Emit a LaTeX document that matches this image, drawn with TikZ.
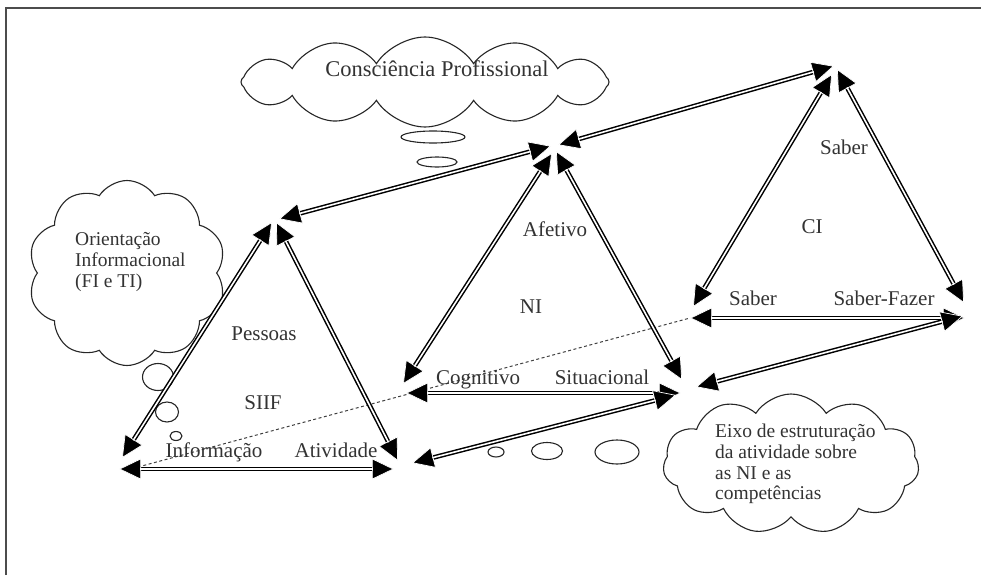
\documentclass[tikz,border=0pt]{standalone}
\usepackage{fontspec}
\setmainfont{Liberation Serif}
\usetikzlibrary{arrows.meta,shapes.symbols,shapes.geometric}
\begin{document}
\begin{tikzpicture}[x=1pt,y=-1pt,
  >={Triangle[length=22pt,width=21pt,line width=0.7pt,color=white,fill=black]},
  link/.style={<->, draw=black, line width=4.6pt,
    postaction={draw=white, line width=1.6pt, -, shorten <=21pt, shorten >=21pt}},
  guide/.style={draw=black!75, line width=1pt, dash pattern=on 3pt off 2.5pt},
  lbl/.style={text=black!80, font=\fontsize{21}{25}\selectfont, inner sep=0pt, anchor=base},
  cloudtxt/.style={text=black!80, font=\fontsize{19.5}{20.8}\selectfont, align=left, inner sep=0pt, anchor=west},
  bubble/.style={cloud, cloud ignores aspect, draw=black!85, line width=1.1pt, fill=white},
  puff/.style={ellipse, draw=black!85, line width=1.1pt, inner sep=0pt, fill=white},
]
\useasboundingbox (0,0) rectangle (981,575);

% frame
\draw[black!70, line width=1.6pt] (6,575) -- (6,8) -- (981,8);

% clouds and thought bubbles
\node[bubble, cloud puffs=12, cloud puff arc=115, minimum width=368pt, minimum height=90pt] (cons) at (425,82) {};
\node[puff, minimum width=64pt, minimum height=12pt] (cp1) at (433,137) {};
\node[puff, minimum width=40pt, minimum height=10pt] (cp2) at (437,162) {};

\node[bubble, cloud puffs=10, cloud puff arc=115, minimum width=198pt, minimum height=185pt] (orient) at (127,273) {};
\node[puff, minimum width=31pt, minimum height=27pt] (op1) at (158,377) {};
\node[puff, minimum width=23pt, minimum height=20pt] (op2) at (167,412) {};
\node[puff, minimum width=12pt, minimum height=9pt] (op3) at (176,436) {};

\node[bubble, cloud puffs=11, cloud puff arc=115, minimum width=256pt, minimum height=140pt] (eixo) at (791,464) {};
\node[puff, minimum width=16pt, minimum height=10pt] (ep1) at (496,452) {};
\node[puff, minimum width=31pt, minimum height=17pt] (ep2) at (547,451) {};
\node[puff, minimum width=44pt, minimum height=24pt] (ep3) at (617,452) {};

% cloud texts
\node[lbl, font=\fontsize{22.5}{26}\selectfont] (constxt) at (437,77) {Consciência Profissional};
\node[cloudtxt] (orienttxt) at (75,262) {Orientação\\Informacional\\(FI e TI)};
\node[cloudtxt] (eixotxt) at (715,464) {Eixo de estruturação\\da atividade sobre\\as NI e as\\competências};

% SIIF triangle
\coordinate (s-lb) at (122,458);
\coordinate (s-lt) at (272,222);
\coordinate (s-rt) at (276,222);
\coordinate (s-rb) at (398,461);
\coordinate (s-bl) at (119,469);
\coordinate (s-br) at (394,469);
\coordinate (s-up) at (279,219);
\coordinate (s-low) at (412,463);
\coordinate (g-start) at (138,467);

% NI triangle
\coordinate (n-lb) at (403,384);
\coordinate (n-lt) at (552,153);
\coordinate (n-rt) at (556,151);
\coordinate (n-rb) at (682,380);
\coordinate (n-bl) at (406,393);
\coordinate (n-br) at (681,393);
\coordinate (n-in) at (551,146);
\coordinate (n-out) at (558,145);
\coordinate (n-lowin) at (676,395);
\coordinate (n-lowout) at (696,387);

% CI triangle
\coordinate (c-lb) at (693,307);
\coordinate (c-lt) at (832,74);
\coordinate (c-rt) at (837,69);
\coordinate (c-rb) at (964,303);
\coordinate (c-bl) at (690,318);
\coordinate (c-br) at (965,318);
\coordinate (c-in) at (834,66);
\coordinate (c-lowin) at (963,316);

% structuring axis
\draw[guide] (g-start) -- (c-bl);

% edges of the triangles
\draw[link] (s-lb) -- (s-lt);
\draw[link] (s-rt) -- (s-rb);
\draw[link] (s-bl) -- (s-br);
\draw[link] (n-lb) -- (n-lt);
\draw[link] (n-rt) -- (n-rb);
\draw[link] (n-bl) -- (n-br);
\draw[link] (c-lb) -- (c-lt);
\draw[link] (c-rt) -- (c-rb);
\draw[link] (c-bl) -- (c-br);

% links between the triangles
\draw[link] (s-up) -- (n-in);
\draw[link] (n-out) -- (c-in);
\draw[link] (s-low) -- (n-lowin);
\draw[link] (n-lowout) -- (c-lowin);

% labels
\node[lbl] (pessoas) at (264,340) {Pessoas};
\node[lbl] (siif) at (263,409) {SIIF};
\node[lbl] (informacao) at (214,457) {Informação};
\node[lbl] (atividade) at (336,457) {Atividade};
\node[lbl] (afetivo) at (555,236) {Afetivo};
\node[lbl] (ni) at (531,313) {NI};
\node[lbl] (cognitivo) at (478,384) {Cognitivo};
\node[lbl] (situacional) at (602,384) {Situacional};
\node[lbl] (sabertop) at (844,154) {Saber};
\node[lbl] (ci) at (812,233) {CI};
\node[lbl] (saberlow) at (753,305) {Saber};
\node[lbl] (saberfazer) at (884,305) {Saber-Fazer};
\end{tikzpicture}
\end{document}
